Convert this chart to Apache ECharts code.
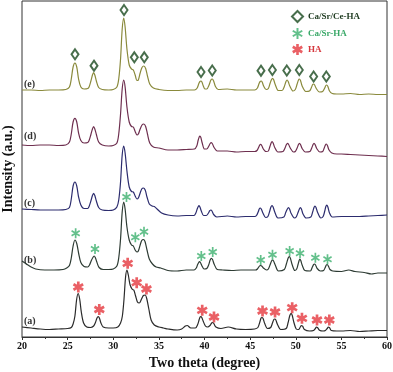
<!DOCTYPE html>
<html><head><meta charset="utf-8">
<script src="https://cdn.jsdelivr.net/npm/echarts@6/dist/echarts.min.js"></script>
<style>html,body{margin:0;padding:0;background:#fff}#c{width:393px;height:372px}</style>
</head><body><div id="c"></div>
<script>
// 2-theta / intensity (a.u.) pairs
const curveA = [[20,10],[21,9],[22,8],[23,7.5],[24,8],[25,8.5],[25.4,9.5],[25.6,13],[25.8,21],[25.98,37],[26.15,43.5],[26.32,38],[26.5,25],[26.75,14],[27.1,10],[27.5,9.5],[27.85,11],[28.05,14.5],[28.22,19],[28.35,20.3],[28.48,19],[28.65,14],[28.9,10],[29.5,9],[30,9],[30.5,10],[30.8,14],[31,21],[31.18,38],[31.35,60],[31.5,67],[31.65,62],[31.85,52],[32.1,47.5],[32.25,47],[32.45,41],[32.65,35],[32.85,34],[33.1,38],[33.3,41.5],[33.5,42],[33.68,38],[33.9,28],[34.15,17],[34.5,12],[35,10],[35.5,9],[36,8],[37,7],[37.5,8],[37.9,11],[38.1,11.5],[38.5,9],[39,9],[39.25,12.5],[39.42,17.5],[39.52,20],[39.6,20.3],[39.7,19.5],[39.85,16],[40.1,11],[40.35,10],[40.6,11.5],[40.78,14],[40.9,14.5],[41.02,13.5],[41.25,10],[41.8,8.5],[42.6,10],[43.5,8],[44.5,7.5],[45.5,8],[45.85,9.5],[46.05,14.5],[46.2,19],[46.3,19.5],[46.42,18.5],[46.6,13.5],[46.9,8.5],[47.25,9.5],[47.45,14],[47.6,17.5],[47.7,18],[47.82,17],[48,12.5],[48.35,7.5],[48.95,8.5],[49.15,14],[49.35,21.5],[49.5,23.7],[49.62,21.5],[49.8,14.5],[50.05,8],[50.3,7.5],[50.5,10],[50.6,11.3],[50.65,11.5],[50.75,10.8],[50.95,7.5],[51.5,6],[51.95,6.5],[52.15,8.5],[52.25,9.8],[52.3,10],[52.4,9.3],[52.6,6.8],[53,6],[53.25,6.5],[53.45,8.5],[53.55,9.8],[53.6,10],[53.7,9.3],[53.9,6.5],[54.5,6],[55,6],[56,6.5],[57,5.5],[58,6],[59,6.5],[60,6.5]];
const curveB = [[20,76],[20.5,73],[21,70],[21.5,68],[22.5,67],[23.5,67],[24.5,67.5],[24.9,69],[25.2,71.5],[25.4,79],[25.6,91],[25.8,97],[26,93.5],[26.2,84],[26.45,74.5],[26.8,70.5],[27.2,70],[27.4,72],[27.6,76.5],[27.77,79.5],[27.9,81],[28.03,79.5],[28.2,75],[28.45,69.5],[28.9,67.5],[29.5,67.5],[30,68],[30.4,71],[30.6,79],[30.8,98],[30.98,125],[31.15,135],[31.3,128],[31.5,110],[31.75,97],[32,92],[32.2,91],[32.4,87],[32.6,85],[32.75,86],[32.95,92],[33.12,96.5],[33.3,97.5],[33.48,95.5],[33.7,87],[33.95,78],[34.3,73],[34.7,70],[35.2,69],[36,66.5],[37,66],[38,67],[38.85,67],[39.1,69],[39.25,72.5],[39.37,74.5],[39.45,75.3],[39.55,74.5],[39.7,71.5],[39.95,68],[40.25,68.5],[40.45,72],[40.62,77],[40.75,78.7],[40.88,77.5],[41.05,73],[41.4,67.5],[42,67],[43,66.5],[44,67],[45,67],[45.6,67],[45.8,68],[45.98,70.5],[46.07,71.3],[46.15,71.5],[46.27,71],[46.45,69],[46.8,67],[47,68],[47.2,72.5],[47.35,76],[47.45,77],[47.57,76],[47.75,72],[48.1,66],[48.75,67.5],[48.97,73],[49.17,79],[49.3,80.3],[49.42,78.5],[49.6,72.5],[49.9,66.5],[50.1,68],[50.25,72.5],[50.37,76.5],[50.45,78],[50.55,76.5],[50.7,72],[51,66.5],[51.6,66],[51.8,69.5],[51.95,72.3],[52.05,73],[52.17,72],[52.35,68.5],[52.7,66],[53.05,66.5],[53.23,69.5],[53.35,72],[53.45,72.5],[53.57,71],[53.75,67.5],[54.05,66],[55,65.5],[55.8,67],[56.5,65.5],[57.5,64.5],[58.3,63],[59,64],[60,64]];
const curveC = [[20,128],[21,127.5],[22,127],[23,127],[24,127],[24.8,127.5],[25.2,129.5],[25.4,138],[25.6,151],[25.8,155],[26,151],[26.2,140],[26.45,132],[26.8,128.5],[27.2,128.5],[27.35,130.5],[27.55,136],[27.72,141.5],[27.85,143.7],[27.98,141.5],[28.15,136],[28.4,129.5],[28.8,127],[29.5,126.5],[30,127],[30.4,130],[30.6,137],[30.8,155],[30.98,182],[31.15,191],[31.3,184],[31.5,166],[31.75,150],[32,145.5],[32.2,145],[32.4,141],[32.6,138],[32.75,139],[32.95,144],[33.12,148],[33.3,149],[33.5,147],[33.7,140],[33.95,133],[34.25,131],[34.5,130.5],[34.8,128],[35.3,124],[36,122],[37,121],[38,121.5],[38.85,121.5],[39.05,124],[39.2,128],[39.32,130.5],[39.4,131.3],[39.5,130],[39.65,126],[39.9,121.5],[40.2,121.5],[40.4,123.5],[40.58,126.3],[40.7,127],[40.82,126],[41,122.5],[41.35,120],[42.5,121],[43.5,120],[44.5,120.5],[45.5,120.5],[45.7,121.5],[45.9,125.5],[46,128],[46.1,129],[46.22,128],[46.4,124],[46.7,119.5],[46.95,120.5],[47.15,126],[47.28,130],[47.4,131.3],[47.52,130],[47.7,125],[48.05,119],[48.7,120],[48.9,124.5],[49.08,128],[49.2,129.3],[49.32,128],[49.5,123.5],[49.85,119],[50.05,120],[50.25,124.5],[50.4,128],[50.5,129.3],[50.62,128],[50.8,123],[51.15,119],[51.65,120],[51.85,125],[52,129.5],[52.1,131],[52.22,129.5],[52.4,124.5],[52.75,119],[53,120.5],[53.18,126],[53.3,130.5],[53.4,132],[53.52,130],[53.7,124],[54,120],[55,120.5],[56,120.5],[57,120.5],[58,121],[59,121.5],[60,122]];
const curveD = [[20,192],[21,191.5],[22,192],[23,192],[24,191.5],[24.8,192],[25.2,195],[25.4,203],[25.6,215],[25.8,218.7],[26,215],[26.2,204],[26.45,196.5],[26.8,194],[27.2,194.5],[27.35,196.5],[27.55,202.5],[27.72,208],[27.85,210.3],[27.98,208],[28.15,202.5],[28.4,195],[28.8,192],[29.5,191],[30,191.5],[30.4,194],[30.6,203],[30.8,223],[30.98,248],[31.15,257],[31.3,250],[31.5,230],[31.75,215],[32,210.5],[32.2,210],[32.4,205.5],[32.6,202],[32.75,203],[32.95,208],[33.15,212],[33.35,213],[33.55,210.5],[33.75,203],[34,194],[34.4,190],[35,189],[36,187],[37,187],[38,187.5],[38.9,188],[39.15,191],[39.3,196.5],[39.42,200],[39.5,201],[39.6,199.5],[39.75,194],[40,188],[40.25,188],[40.45,190.5],[40.62,193.5],[40.75,194.3],[40.88,193],[41.05,189.5],[41.4,186],[42.5,186],[43.5,185],[44.5,185.5],[45.5,185.5],[45.75,186.5],[45.95,190],[46.05,192],[46.15,192.7],[46.27,191.5],[46.45,188],[46.75,185.5],[47,186],[47.17,190.5],[47.3,194],[47.4,195.3],[47.52,194],[47.7,189.5],[48.05,185],[48.6,185.5],[48.8,188.5],[48.98,192.5],[49.1,193.7],[49.22,192.5],[49.4,189],[49.75,185],[49.95,185.5],[50.15,189],[50.3,192.5],[50.4,193.7],[50.52,192.5],[50.7,188.5],[51.05,185],[51.55,185.5],[51.75,189],[51.9,192.5],[52,193.7],[52.12,192.5],[52.3,188.5],[52.65,185],[52.95,185.5],[53.12,189],[53.25,192],[53.35,193],[53.47,191.5],[53.65,187],[53.95,184],[54.5,183],[55,183],[56,182.5],[57,182],[58,181.5],[59,181],[60,180.5]];
const curveE = [[20,247],[21,247],[22,246.5],[23,247],[24,247],[24.8,247.5],[25.2,250],[25.4,258],[25.6,270],[25.8,274],[26,270],[26.2,258],[26.45,250],[26.8,248],[27.2,248.5],[27.35,250],[27.55,256],[27.72,262],[27.85,264.3],[27.98,262],[28.15,256],[28.4,249.5],[28.8,247.5],[29.5,247],[30,247.5],[30.4,250],[30.6,258],[30.8,278],[30.98,308],[31.15,319],[31.3,310],[31.5,288],[31.75,272],[32,268],[32.2,267],[32.4,262],[32.6,256.5],[32.75,257],[32.95,264],[33.15,269.5],[33.35,271],[33.55,268.5],[33.75,261],[34,253],[34.4,249],[35,247.5],[36,246.5],[37,246.5],[38,247],[38.9,247],[39.2,249],[39.38,253.5],[39.5,255.5],[39.6,256],[39.72,255],[39.85,251.5],[40.05,248],[40.25,248],[40.5,252],[40.7,257],[40.85,258],[41,256],[41.2,250.5],[41.5,247.5],[42.5,248],[43.5,247],[44.5,247],[45.5,247],[45.8,249],[45.98,253.5],[46.1,255.5],[46.2,256],[46.32,255],[46.48,251],[46.75,247.5],[47,248.5],[47.2,254],[47.35,257.5],[47.45,258.7],[47.57,257.5],[47.75,252.5],[48.1,246.5],[48.5,246.5],[48.75,250.5],[48.93,255.5],[49.05,257],[49.17,255.5],[49.35,251],[49.7,246],[49.95,247.5],[50.15,253],[50.3,257],[50.4,258],[50.52,256.5],[50.7,251],[51.1,245.5],[51.5,246],[51.72,249.5],[51.85,252.5],[51.95,253],[52.07,252],[52.25,248.5],[52.6,245],[52.95,245.5],[53.15,248.5],[53.3,251.5],[53.4,252],[53.52,250.5],[53.7,246],[54,243.5],[54.5,243],[55,243],[56,243.5],[57,242.5],[58,243],[59,242.5],[60,242.5]];

// peak marker positions
const markCeHA = [[25.81,282.7],[27.89,271.3],[31.18,327],[32.31,279.7],[33.40,279.7],[39.62,265],[40.85,266.5],[46.19,266.3],[47.44,267],[49.02,266.5],[50.39,267],[51.96,260.5],[53.35,260.5]];
const markSrHA = [[25.88,103.7],[28.0,88],[31.45,140],[32.42,99.7],[33.37,105.3],[39.65,81],[40.9,85],[46.16,77],[47.45,82.3],[49.33,86],[50.47,83.7],[52.15,79.3],[53.48,77.8]];
const markHA = [[26.17,50],[28.47,27.5],[31.58,73.7],[32.57,54.3],[33.64,48],[39.75,26.7],[41.04,20],[46.36,26],[47.73,25],[49.61,29.3],[50.68,18.7],[52.33,17],[53.68,17]];

const legendNames = ['Ca/Sr/Ce-HA','Ca/Sr-HA','HA'];
const curveLabels = ['(e)','(d)','(c)','(b)','(a)'];
const curveLabelLevels = [253,200.3,133.7,77,15.3];
const xTicks = {min:20,max:60,step:5};

const star = 'path://M-0.9,-5L0.9,-5L0.9,5L-0.9,5Z M-4.78,-1.721L-3.88,-3.279L4.78,1.721L3.88,3.279Z M-3.88,3.279L-4.78,1.721L3.88,-3.279L4.78,-1.721Z';
const starFat = 'path://M-1.2,-5L1.2,-5L1.2,5L-1.2,5Z M-4.93,-1.46L-3.73,-3.54L4.93,1.46L3.73,3.54Z M-3.73,3.54L-4.93,1.46L3.73,-3.54L4.93,-1.46Z';

const serif = '"Liberation Serif","Times New Roman",serif';
const chart = echarts.init(document.getElementById('c'), null, {renderer:'canvas'});

function line(data,color){
  return {type:'line',data:data,smooth:0.3,symbol:'none',silent:true,
    lineStyle:{color:color,width:1.2},z:2};
}
chart.setOption({
  animation:false,
  backgroundColor:'#fff',
  grid:{left:22,right:6,top:1,bottom:35,show:true,borderColor:'#333',borderWidth:1,backgroundColor:'transparent',outerBoundsMode:'none',containLabel:false},
  xAxis:{type:'value',min:xTicks.min,max:xTicks.max,interval:xTicks.step,
    name:'Two theta (degree)',nameLocation:'middle',nameGap:19,
    nameTextStyle:{fontFamily:serif,fontWeight:'bold',fontSize:14,color:'#111'},
    axisLine:{show:true,lineStyle:{color:'#333',width:1}},
    axisTick:{show:true,inside:false,length:3,lineStyle:{color:'#333'}},
    minorTick:{show:true,splitNumber:2,length:2,lineStyle:{color:'#333'}},
    splitLine:{show:false},
    axisLabel:{fontFamily:serif,fontWeight:'bold',fontSize:10,color:'#111',margin:4}},
  yAxis:{type:'value',min:0,max:336,
    name:'Intensity (a.u.)',nameLocation:'middle',nameGap:7,
    nameTextStyle:{fontFamily:serif,fontWeight:'bold',fontSize:14,color:'#111'},
    axisLine:{show:false},axisTick:{show:false},axisLabel:{show:false},splitLine:{show:false}},
  legend:{orient:'vertical',left:291,top:10,padding:0,itemGap:5,itemWidth:11,itemHeight:11,
    data:[
      {name:legendNames[0],textStyle:{color:'#1d3a1f',fontFamily:serif,fontWeight:'bold',fontSize:9}},
      {name:legendNames[1],textStyle:{color:'#3aa868',fontFamily:serif,fontWeight:'bold',fontSize:9}},
      {name:legendNames[2],textStyle:{color:'#d6383e',fontFamily:serif,fontWeight:'bold',fontSize:9}}
    ]},
  series:[
    line(curveA,'#2b2b2b'),
    line(curveB,'#2d3b33'),
    line(curveC,'#2c2c6e'),
    line(curveD,'#6e2f4f'),
    line(curveE,'#8a8a3c'),
    {type:'scatter',name:legendNames[0],data:markCeHA,symbol:'diamond',symbolSize:[7,10],
      itemStyle:{color:'#fff',borderColor:'#1a4a1f',borderWidth:2},z:5},
    {type:'scatter',name:legendNames[1],data:markSrHA,symbol:star,symbolSize:[9,10],
      itemStyle:{color:'#3cb06e'},z:5},
    {type:'scatter',name:legendNames[2],data:markHA,symbol:starFat,symbolSize:[11,11],
      itemStyle:{color:'#e5383f'},z:5}
  ]
});
// curve labels placed at data coordinates
const gr = curveLabels.map((t,i)=>{
  const p = chart.convertToPixel({gridIndex:0},[20,curveLabelLevels[i]]);
  return {type:'text',x:p[0]+2,y:p[1],style:{text:t,fontFamily:serif,fontWeight:'bold',fontSize:10,fill:'#333',verticalAlign:'middle'}};
});
chart.setOption({graphic:gr});
</script></body></html>
